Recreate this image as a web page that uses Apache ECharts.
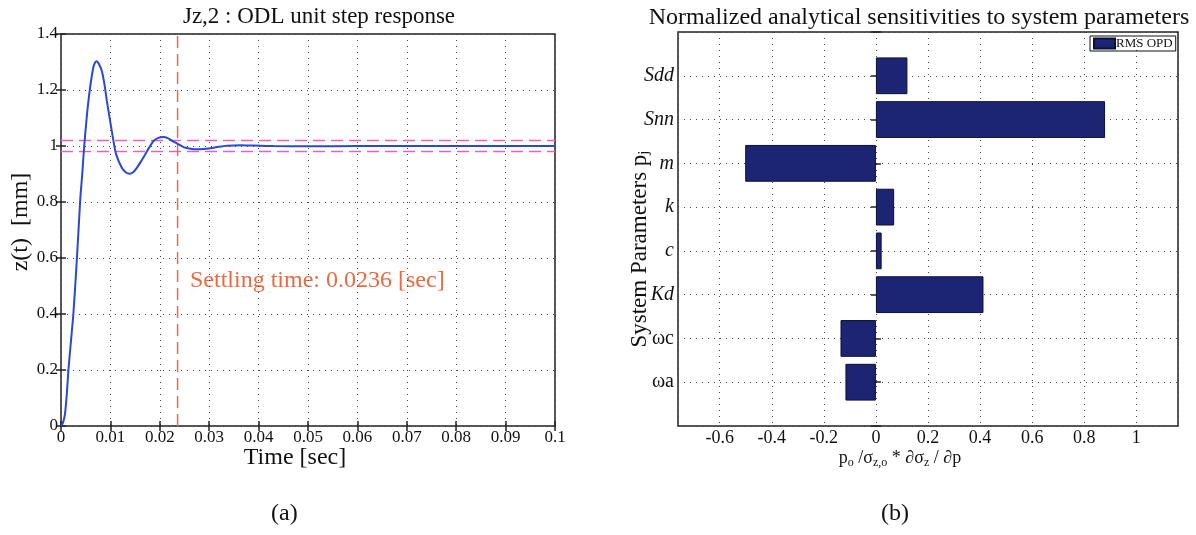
<!DOCTYPE html>
<html>
<head>
<meta charset="utf-8">
<script src="https://cdn.jsdelivr.net/npm/echarts@6/dist/echarts.min.js"></script>
<style>
html, body { margin: 0; padding: 0; background: #fff; }
#main { width: 1196px; height: 535px; }
</style>
</head>
<body>
<div id="main"></div>
<script>
// (a) step response
var timeData = [0, 0.0004, 0.0008, 0.0012, 0.0015, 0.002, 0.0025, 0.003, 0.0035, 0.0039,
	0.0043, 0.0047, 0.0053, 0.0059, 0.00655, 0.0069, 0.00724, 0.0077, 0.00825, 0.0088,
	0.00927, 0.0098, 0.01028, 0.0107, 0.01116, 0.01231, 0.0131, 0.01386, 0.0146, 0.01535,
	0.0162, 0.01704, 0.0179, 0.01873, 0.0197, 0.02076, 0.0217, 0.02278, 0.0238, 0.02481,
	0.0262, 0.02752, 0.0288, 0.03022, 0.0319, 0.0336, 0.0363, 0.039, 0.043, 0.05,
	0.06, 0.07, 0.08, 0.09, 0.1];
var zData = [0, 0.012, 0.042, 0.12, 0.2, 0.3, 0.4, 0.535, 0.685, 0.81,
	0.9, 1.0, 1.12, 1.21, 1.281, 1.298, 1.303, 1.292, 1.269, 1.22,
	1.162, 1.105, 1.054, 1.01, 0.97, 0.922, 0.906, 0.901, 0.906, 0.922,
	0.945, 0.97, 0.996, 1.018, 1.029, 1.032, 1.027, 1.016, 1.006, 0.996,
	0.99, 0.988, 0.989, 0.992, 0.997, 1.001, 1.003, 1.002, 1.0, 0.999,
	1.0, 1.0, 1.0, 1.0, 1.0];
var settlingTime = 0.0236;
var bandUpper = 1.02;
var bandLower = 0.98;

// (b) sensitivities, bottom to top
var paramNames = ['ωa', 'ωc', 'Kd', 'c', 'k', 'm', 'Snn', 'Sdd'];
var sensitivities = [-0.117, -0.136, 0.413, 0.022, 0.070, -0.502, 0.880, 0.121];
var italicNames = ['Kd', 'c', 'k', 'm', 'Snn', 'Sdd'];

var serif = 'Liberation Serif';
var dotted = { color: '#444', type: [1, 5], width: 1 };
var axisBlack = { color: '#222', width: 1.5 };

// build chart data
var linePoints = [];
for (var i = 0; i < timeData.length; i++) {
	linePoints.push([timeData[i], zData[i]]);
}
// blank slot below and above so the axis runs 0..9
var catNames = [''].concat(paramNames).concat(['']);
var barData = [null].concat(sensitivities).concat([null]);

function dashSeries(points, color) {
	return {
		type: 'line', xAxisIndex: 0, yAxisIndex: 0,
		data: points, showSymbol: false, silent: true,
		lineStyle: { color: color, type: [12, 6], width: 1.5 }
	};
}

var option = {
	animation: false,
	backgroundColor: '#fff',
	textStyle: { fontFamily: serif },
	title: [{
		text: 'Jz,2 : ODL unit step response',
		left: 314, top: 0, textAlign: 'center',
		textStyle: { fontFamily: serif, fontSize: 23, fontWeight: 'normal', color: '#111' }
	}, {
		text: 'Normalized analytical sensitivities to system parameters',
		left: 914, top: 1, textAlign: 'center',
		textStyle: { fontFamily: serif, fontSize: 24, fontWeight: 'normal', color: '#111' }
	}],
	legend: {
		data: [{ name: 'RMS OPD', icon: 'rect' }],
		left: 1090, top: 36,
		itemWidth: 21, itemHeight: 10, itemGap: 2,
		padding: [1, 3, 1, 3],
		borderColor: '#111', borderWidth: 1,
		textStyle: { fontFamily: serif, fontSize: 13, color: '#111', padding: [0, 0, 0, -4] }
	},
	grid: [
		{ left: 61, top: 34, width: 494, height: 392, show: true, borderColor: '#222', borderWidth: 1.5 },
		{ left: 678, top: 32, width: 500, height: 394, show: true, borderColor: '#222', borderWidth: 1.5 }
	],
	xAxis: [{
		gridIndex: 0, type: 'value', min: 0, max: 0.1, interval: 0.01,
		name: 'Time [sec]', nameLocation: 'middle', nameGap: 20, nameMoveOverlap: false,
		nameTextStyle: { fontFamily: serif, fontSize: 24, color: '#111', padding: [0, 26, 0, 0] },
		axisLine: { show: false },
		axisTick: { inside: true, length: 5, lineStyle: axisBlack },
		axisLabel: { fontFamily: serif, fontSize: 17, color: '#111', margin: 3 },
		splitLine: { show: true, lineStyle: dotted }
	}, {
		gridIndex: 0, type: 'value', min: 0, max: 0.1, interval: 0.01, position: 'top',
		axisLine: { show: false },
		axisTick: { inside: true, length: 5, lineStyle: axisBlack },
		axisLabel: { show: false }, splitLine: { show: false }
	}, {
		gridIndex: 1, type: 'value', min: -0.76, max: 1.16, splitNumber: 10,
		name: '{t|p}{s|o}{t| /σ}{s|z,o}{t| * ∂σ}{s|z}{t| / ∂p}',
		nameLocation: 'middle', nameGap: 22, nameMoveOverlap: false,
		nameTextStyle: {
			fontFamily: serif, color: '#111', padding: [0, 56, 0, 0],
			rich: {
				t: { fontFamily: serif, fontSize: 18, color: '#111' },
				s: { fontFamily: serif, fontSize: 12, color: '#111', verticalAlign: 'bottom', padding: [9, 0, 0, 0] }
			}
		},
		axisLine: { show: false },
		axisTick: { inside: true, length: 5, lineStyle: axisBlack },
		axisLabel: { fontFamily: serif, fontSize: 18, color: '#111', margin: 3, showMinLabel: false, showMaxLabel: false },
		splitLine: { show: true, lineStyle: dotted }
	}, {
		gridIndex: 1, type: 'value', min: -0.76, max: 1.16, splitNumber: 10, position: 'top',
		axisLine: { show: false },
		axisTick: { inside: true, length: 5, lineStyle: axisBlack },
		axisLabel: { show: false }, splitLine: { show: false }
	}],
	yAxis: [{
		gridIndex: 0, type: 'value', min: 0, max: 1.4, interval: 0.2,
		name: 'z(t)  [mm]', nameLocation: 'middle', nameGap: 28, nameMoveOverlap: false,
		nameTextStyle: { fontFamily: serif, fontSize: 24, color: '#111', padding: [0, 0, 0, 16] },
		axisLine: { show: false },
		axisTick: { inside: true, length: 5, lineStyle: axisBlack },
		axisLabel: { fontFamily: serif, fontSize: 17, color: '#111', margin: 3 },
		splitLine: { show: true, lineStyle: dotted }
	}, {
		gridIndex: 0, type: 'value', min: 0, max: 1.4, interval: 0.2, position: 'right',
		axisLine: { show: false },
		axisTick: { inside: true, length: 5, lineStyle: axisBlack },
		axisLabel: { show: false }, splitLine: { show: false }
	}, {
		gridIndex: 1, type: 'category', data: catNames, boundaryGap: false,
		name: '{t|System Parameters p}{s|j}', nameLocation: 'middle', nameGap: 26, nameMoveOverlap: false,
		nameTextStyle: {
			fontFamily: serif, color: '#111', padding: [0, 40, 0, 0],
			rich: {
				t: { fontFamily: serif, fontSize: 23, color: '#111' },
				s: { fontFamily: serif, fontSize: 15, color: '#111', verticalAlign: 'bottom', padding: [9, 0, 0, 0] }
			}
		},
		axisLine: { show: false },
		axisTick: { inside: true, length: 5, lineStyle: axisBlack },
		axisLabel: {
			margin: 4,
			formatter: function (v) {
				if (italicNames.indexOf(v) >= 0) return '{i|' + v + '}';
				return '{n|' + v + '}';
			},
			rich: {
				i: { fontFamily: serif, fontSize: 20, fontStyle: 'italic', color: '#111' },
				n: { fontFamily: serif, fontSize: 20, color: '#111' }
			}
		},
		splitLine: { show: true, lineStyle: dotted }
	}, {
		gridIndex: 1, type: 'category', data: catNames, boundaryGap: false, position: 'right',
		axisLine: { show: false },
		axisTick: { inside: true, length: 5, lineStyle: axisBlack },
		axisLabel: { show: false }, splitLine: { show: false }
	}],
	series: [
		dashSeries([[0, bandUpper], [0.1, bandUpper]], '#e462c4'),
		dashSeries([[0, bandLower], [0.1, bandLower]], '#e462c4'),
		dashSeries([[settlingTime, 0], [settlingTime, 1.4]], '#ec6a45'),
		{
			type: 'line',
			xAxisIndex: 0, yAxisIndex: 0,
			data: linePoints,
			showSymbol: false,
			smooth: 0.25,
			lineStyle: { color: '#2b48d4', width: 2 }
		}, {
			name: 'RMS OPD',
			type: 'bar',
			xAxisIndex: 2, yAxisIndex: 2,
			data: barData,
			barWidth: '84%',
			itemStyle: { color: '#1c2573', borderColor: '#0b1035', borderWidth: 1 }
		}
	],
	graphic: [{
		type: 'text', left: 190, top: 269,
		style: { text: 'Settling time: 0.0236 [sec]', font: '24px "Liberation Serif"', fill: '#ea6a42' }
	}, {
		type: 'text', left: 271, top: 502,
		style: { text: '(a)', font: '24px "Liberation Serif"', fill: '#111' }
	}, {
		type: 'text', left: 881, top: 502,
		style: { text: '(b)', font: '24px "Liberation Serif"', fill: '#111' }
	}]
};

var myChart = echarts.init(document.getElementById('main'));
myChart.setOption(option);
</script>
</body>
</html>
